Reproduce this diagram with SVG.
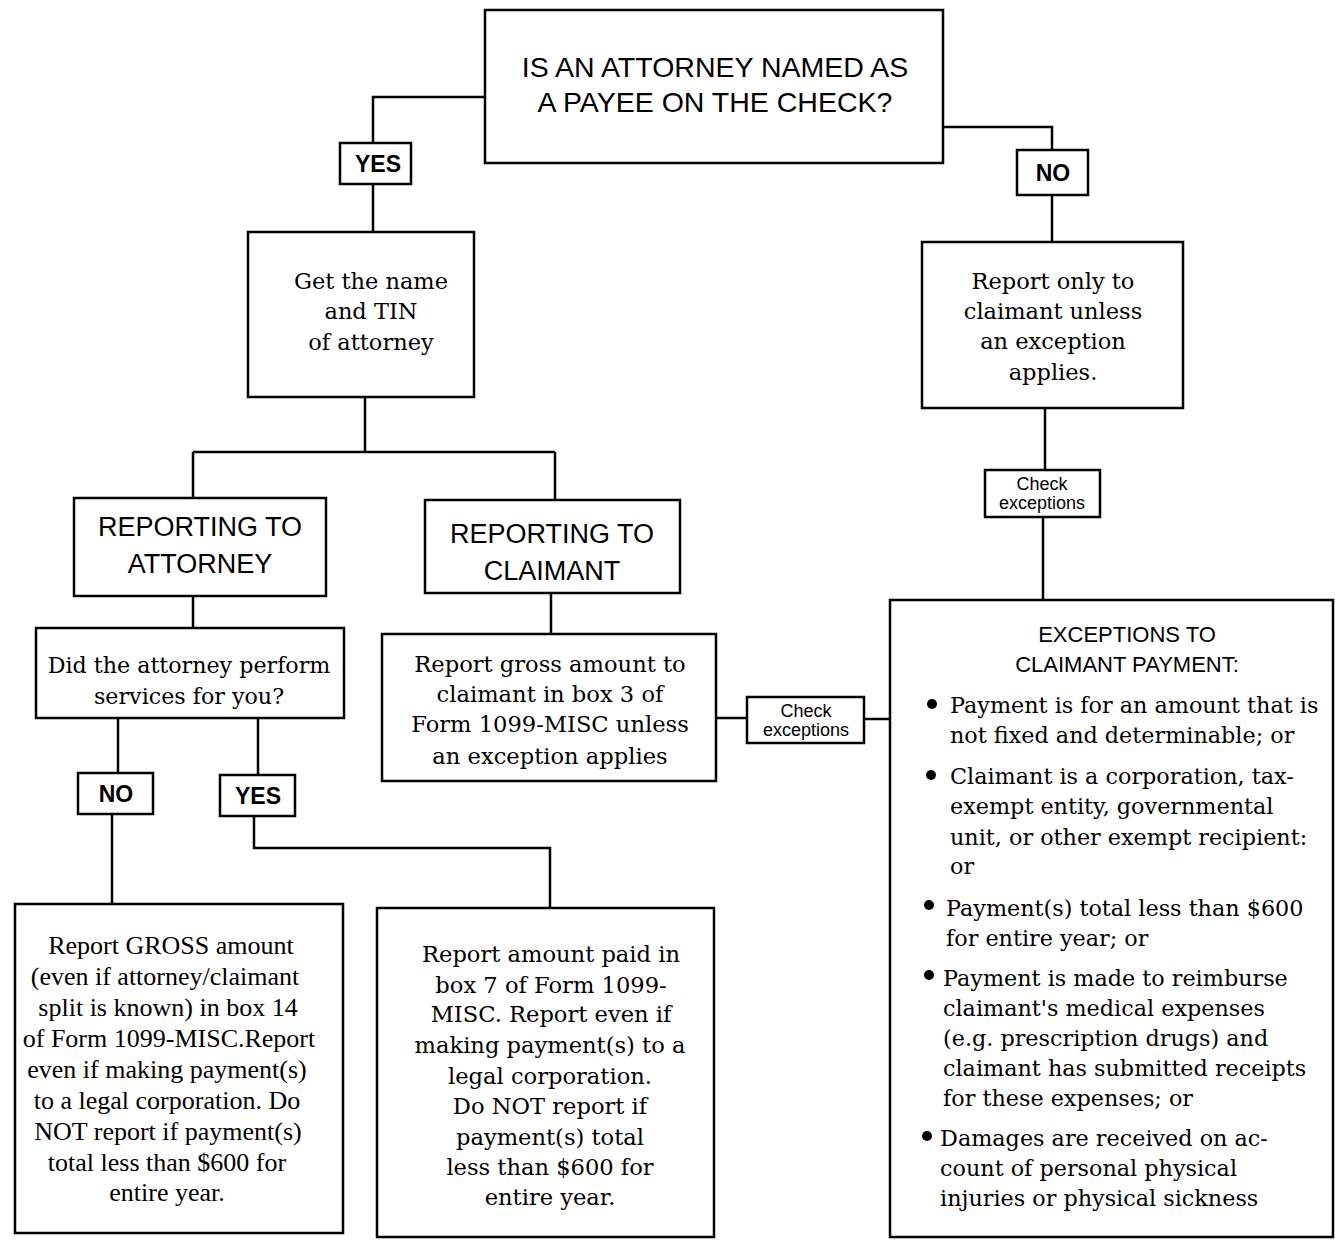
<svg xmlns="http://www.w3.org/2000/svg" width="1335" height="1241" viewBox="0 0 1335 1241">
<style>
.box{fill:#fff;stroke:#000;stroke-width:2.5}
.line{fill:none;stroke:#000;stroke-width:2.5}
.head{font-family:"Liberation Sans",sans-serif;font-size:27px;text-anchor:middle;fill:#000}
.lab{font-family:"Liberation Sans",sans-serif;font-size:23px;font-weight:bold;text-anchor:middle;fill:#000}
.small{font-family:"Liberation Sans",sans-serif;font-size:18px;text-anchor:middle;fill:#000}
.ser{font-family:"DejaVu Serif",serif;font-size:22.5px;text-anchor:middle;fill:#000}
.ser2{font-family:"DejaVu Serif",serif;font-size:22.6px;text-anchor:middle;fill:#000}
.serc{font-family:"Liberation Serif",serif;font-size:26px;text-anchor:middle;fill:#000}
.exl{font-family:"DejaVu Serif",serif;font-size:22.3px;fill:#000}
.bul{fill:#000}
</style>
<rect width="1335" height="1241" fill="#fff"/>
<g id="connectors">
<path class="line" d="M485,97 H373 V143"/>
<path class="line" d="M943,127 H1052 V150"/>
<path class="line" d="M373,184 V232"/>
<path class="line" d="M1052,195 V242"/>
<path class="line" d="M365,397 V452 M193,452 H555 M193,452 V498 M555,452 V500"/>
<path class="line" d="M193,596 V628"/>
<path class="line" d="M551,593 V634"/>
<path class="line" d="M118,718 V773"/>
<path class="line" d="M258,718 V775"/>
<path class="line" d="M112,814 V904"/>
<path class="line" d="M254,816 V848 H550 V908"/>
<path class="line" d="M716,718 H747"/>
<path class="line" d="M864,719 H890"/>
<path class="line" d="M1045,408 V470"/>
<path class="line" d="M1043,517 V600"/>
</g>
<g id="q-attorney">
<rect class="box" x="485" y="10" width="458" height="153"/>
<text class="head" x="715" y="77" style="font-size:28.5px">IS AN ATTORNEY NAMED AS</text>
<text class="head" x="715" y="112" style="font-size:28.5px">A PAYEE ON THE CHECK?</text>
</g>
<g id="yes1">
<rect class="box" x="340" y="143" width="71" height="41"/>
<text class="lab" x="378" y="172">YES</text>
</g>
<g id="no1">
<rect class="box" x="1017" y="150" width="71" height="45"/>
<text class="lab" x="1053" y="181">NO</text>
</g>
<g id="get-name">
<rect class="box" x="248" y="232" width="226" height="165"/>
<text class="ser" x="371" y="289">Get the name</text>
<text class="ser" x="371" y="319">and TIN</text>
<text class="ser" x="371" y="350">of attorney</text>
</g>
<g id="report-only">
<rect class="box" x="922" y="242" width="261" height="166"/>
<text class="ser" x="1053" y="289">Report only to</text>
<text class="ser" x="1053" y="319">claimant unless</text>
<text class="ser" x="1053" y="349">an exception</text>
<text class="ser" x="1053" y="380">applies.</text>
</g>
<g id="check-exc-1">
<rect class="box" x="985" y="470" width="115" height="47"/>
<text class="small" x="1042" y="490">Check</text>
<text class="small" x="1042" y="509">exceptions</text>
</g>
<g id="rep-attorney">
<rect class="box" x="74" y="498" width="252" height="98"/>
<text class="head" x="200" y="536">REPORTING TO</text>
<text class="head" x="200" y="573">ATTORNEY</text>
</g>
<g id="rep-claimant">
<rect class="box" x="425" y="500" width="255" height="93"/>
<text class="head" x="552" y="543">REPORTING TO</text>
<text class="head" x="552" y="580">CLAIMANT</text>
</g>
<g id="did-attorney">
<rect class="box" x="36" y="628" width="308" height="90"/>
<text class="ser2" x="189" y="673" style="font-size:22.2px">Did the attorney perform</text>
<text class="ser2" x="189" y="704" style="font-size:22.2px">services for you?</text>
</g>
<g id="report-gross">
<rect class="box" x="382" y="634" width="334" height="147"/>
<text class="ser2" x="550" y="672">Report gross amount to</text>
<text class="ser2" x="550" y="702">claimant in box 3 of</text>
<text class="ser2" x="550" y="732">Form 1099-MISC unless</text>
<text class="ser2" x="550" y="764">an exception applies</text>
</g>
<g id="check-exc-2">
<rect class="box" x="747" y="697" width="117" height="46"/>
<text class="small" x="806" y="717">Check</text>
<text class="small" x="806" y="736">exceptions</text>
</g>
<g id="no2">
<rect class="box" x="78" y="773" width="75" height="41"/>
<text class="lab" x="116" y="802">NO</text>
</g>
<g id="yes2">
<rect class="box" x="220" y="775" width="75" height="41"/>
<text class="lab" x="258" y="804">YES</text>
</g>
<g id="report-gross-atty">
<rect class="box" x="15" y="904" width="328" height="329"/>
<text class="serc" x="171" y="954">Report GROSS amount</text>
<text class="serc" x="165" y="985">(even if attorney/claimant</text>
<text class="serc" x="168" y="1016">split is known) in box 14</text>
<text class="serc" x="169" y="1047">of Form 1099-MISC.Report</text>
<text class="serc" x="167" y="1078">even if making payment(s)</text>
<text class="serc" x="167" y="1109">to a legal corporation.  Do</text>
<text class="serc" x="168" y="1140">NOT report if payment(s)</text>
<text class="serc" x="167" y="1171">total less than $600 for</text>
<text class="serc" x="167" y="1201">entire year.</text>
</g>
<g id="report-box7">
<rect class="box" x="377" y="908" width="337" height="329"/>
<text class="ser2" x="551" y="962">Report amount paid in</text>
<text class="ser2" x="551" y="993">box 7 of Form 1099-</text>
<text class="ser2" x="551" y="1022">MISC. Report even if</text>
<text class="ser2" x="550" y="1053">making payment(s) to a</text>
<text class="ser2" x="550" y="1084">legal corporation.</text>
<text class="ser2" x="550" y="1114">Do NOT report if</text>
<text class="ser2" x="550" y="1145">payment(s) total</text>
<text class="ser2" x="550" y="1175">less than $600 for</text>
<text class="ser2" x="550" y="1205">entire year.</text>
</g>
<g id="exceptions">
<rect class="box" x="890" y="600" width="443" height="637"/>
<text class="head" x="1127" y="642" style="font-size:22px">EXCEPTIONS TO</text>
<text class="head" x="1127" y="672" style="font-size:22px">CLAIMANT PAYMENT:</text>
<circle class="bul" cx="932" cy="704" r="5"/>
<circle class="bul" cx="931" cy="775" r="5"/>
<circle class="bul" cx="929" cy="905" r="5"/>
<circle class="bul" cx="929" cy="975" r="5"/>
<circle class="bul" cx="927" cy="1136" r="5"/>
<text class="exl" x="950" y="713">Payment is for an amount that is</text>
<text class="exl" x="950" y="743">not fixed and determinable; or</text>
<text class="exl" x="950" y="784">Claimant is a corporation, tax-</text>
<text class="exl" x="950" y="814">exempt entity, governmental</text>
<text class="exl" x="950" y="845">unit, or other exempt recipient:</text>
<text class="exl" x="950" y="874">or</text>
<text class="exl" x="946" y="916">Payment(s) total less than $600</text>
<text class="exl" x="946" y="946">for entire year; or</text>
<text class="exl" x="943" y="986">Payment is made to reimburse</text>
<text class="exl" x="943" y="1016">claimant's medical expenses</text>
<text class="exl" x="943" y="1046">(e.g. prescription drugs) and</text>
<text class="exl" x="943" y="1076">claimant has submitted receipts</text>
<text class="exl" x="943" y="1106">for these expenses; or</text>
<text class="exl" x="940" y="1146">Damages are received on ac-</text>
<text class="exl" x="940" y="1176">count of personal physical</text>
<text class="exl" x="940" y="1206">injuries or physical sickness</text>
</g>
</svg>
